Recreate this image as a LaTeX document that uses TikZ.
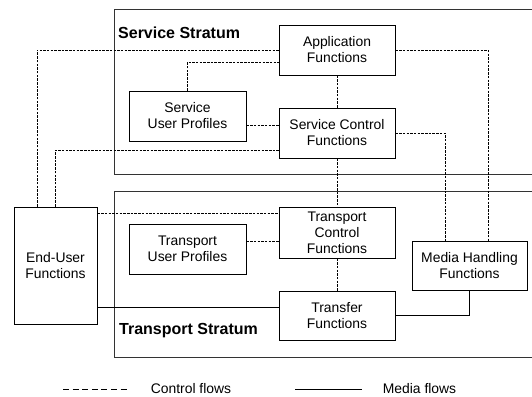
\documentclass[tikz,border=0pt]{standalone}
\usepackage{fontspec}
\setmainfont{Liberation Sans}
\tikzset{
  ctrl/.style={draw=black, line width=0.7pt, dash pattern=on 2.5pt off 1.2pt},
  media/.style={draw=black, line width=0.8pt},
  legdash/.style={draw=black, line width=0.8pt, dash pattern=on 6pt off 3.6pt},
  stratum/.style={draw=black!80, line width=0.9pt},
  vh/.style={to path={|- (\tikztotarget)}},
  hv/.style={to path={-| (\tikztotarget)}},
}
\begin{document}
\begin{tikzpicture}[x=1pt,y=-1pt]
        \useasboundingbox (0,0) rectangle (532,396);
        % strata
        \draw[stratum] (533,9) -- (114,9) -- (114,174) -- (533,174);
        \draw[stratum] (533,191) -- (114,191) -- (114,357) -- (533,357);
        \node[anchor=west, inner sep=0pt, font=\fontsize{16}{19}\selectfont\bfseries] (ss) at (118,33) {Service Stratum};
        \node[anchor=west, inner sep=0pt, font=\fontsize{16}{19}\selectfont\bfseries] (ts) at (119,331) {Transport Stratum};
        \begin{scope}[every node/.style={rectangle,draw,line width=0.8pt,align=center,inner sep=0pt,font=\fontsize{13.9}{16}\selectfont}]
          \node[minimum width=116pt, minimum height=50pt] (app) at (337,50) {Application\\Functions};
          \node[minimum width=116pt, minimum height=50pt] (sc) at (337,133) {Service Control\\Functions};
          \node[minimum width=117pt, minimum height=50pt] (sup) at (187.5,116) {Service\\User Profiles};
          \node[minimum width=116pt, minimum height=51pt] (tc) at (337,232.5) {Transport\\Control\\Functions};
          \node[minimum width=117pt, minimum height=50pt] (tup) at (187.5,249) {Transport\\User Profiles};
          \node[minimum width=115pt, minimum height=49pt] (mh) at (469.5,265.5) {Media Handling\\Functions};
          \node[minimum width=116pt, minimum height=49pt] (tr) at (337,315.5) {Transfer\\Functions};
          \node[minimum width=83pt, minimum height=117pt] (eu) at (55.5,265.5) {End-User\\Functions};
        \end{scope}
        \begin{scope}[every edge/.style={ctrl}]
          \path ([xshift=-18.5pt]eu.north) edge[vh] (app.west);
          \path (eu.north) edge[vh] ([yshift=-17pt]sc.west);
          \path (sup.north) edge[vh] ([yshift=-12pt]app.west);
          \path ([yshift=-9pt]sup.east) edge ([yshift=-9pt]sup.east -| sc.west);
          \path (app) edge (sc);
          \path (sc) edge (tc);
          \path (tc) edge (tr);
          \path (app.east) edge[hv] ([xshift=18.5pt]mh.north);
          \path (sc.east) edge[hv] ([xshift=-24.5pt]mh.north);
          \path ([yshift=-7pt]eu.north east) edge ([yshift=-7pt]tc.north west);
          \path ([yshift=8pt]tup.east) edge ([yshift=8pt]tup.east -| tc.west);
        \end{scope}
        \begin{scope}[every edge/.style={media}]
          \path ([yshift=17pt]eu.south east) edge ([yshift=17pt]eu.south east -| tr.west);
          \path (tr.east) edge[hv] (mh.south);
        \end{scope}
        % legend
        \coordinate (ca) at (63,389);
        \coordinate (cb) at (130,389);
        \coordinate (ma) at (295,389);
        \coordinate (mb) at (362,389);
        \draw[legdash] (ca) -- (cb);
        \draw[media] (ma) -- (mb);
        \node[font=\fontsize{13.9}{16}\selectfont, inner sep=0pt, anchor=base] (cf) at (191,393.5) {Control flows};
        \node[font=\fontsize{13.9}{16}\selectfont, inner sep=0pt, anchor=base] (mf) at (419.5,393.5) {Media flows};
\end{tikzpicture}
\end{document}
